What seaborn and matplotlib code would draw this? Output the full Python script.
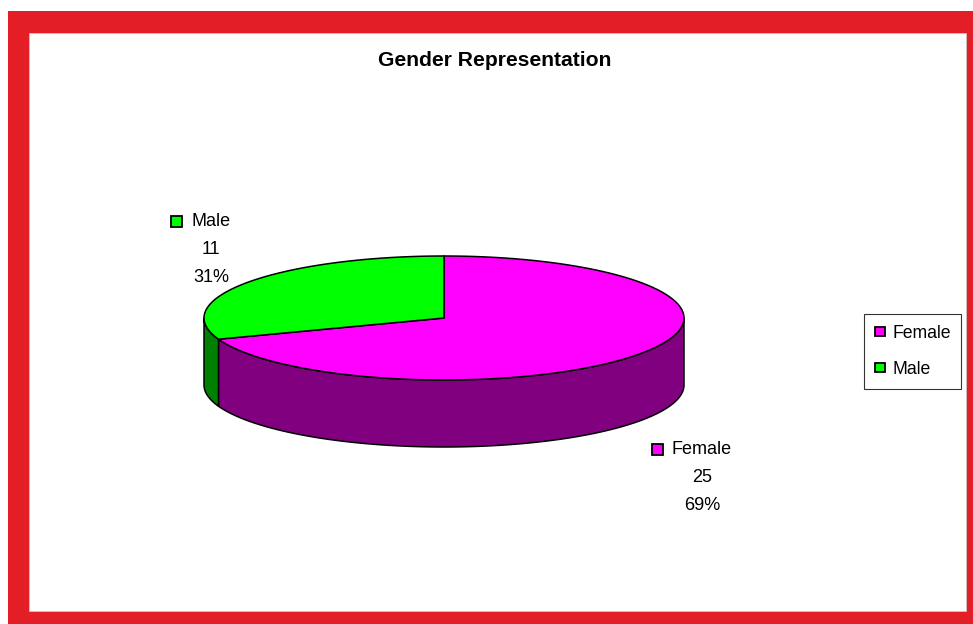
import numpy as np
import matplotlib
matplotlib.use("Agg")
import matplotlib.pyplot as plt
from matplotlib.patches import Polygon, Rectangle, Patch
import seaborn as sns

# data
labels = ["Female", "Male"]
counts = [25, 11]
top_colors = ["#FF00FF", "#00FF00"]
side_colors = ["#800080", "#008000"]
title = "Gender Representation"

sns.set_theme(style="white")
plt.rcParams["font.family"] = ["Liberation Sans", "DejaVu Sans"]

W, H = 973, 624
fig = plt.figure(figsize=(W / 100, H / 100), dpi=100)
ax = fig.add_axes([0, 0, 1, 1])
ax.set_xlim(0, W)
ax.set_ylim(H, 0)
ax.axis("off")

# red frame around the chart area
ax.add_patch(Rectangle((8, 11), W - 8, H - 11, facecolor="#E41E26", edgecolor="none"))
ax.add_patch(Rectangle((29, 33), 937, 578, facecolor="white", edgecolor="#c8c8c8", lw=0.6))

ax.text(495, 60, title, ha="center", va="center", fontsize=15.2, fontweight="bold", color="black")

# 3d pie geometry (pixels)
cx, cy, rx, ry, depth = 444, 318, 240, 62, 67
total = sum(counts)
cum = np.concatenate([[0], np.cumsum(counts)])
starts = 90 - cum[:-1] / total * 360
ends = 90 - cum[1:] / total * 360


def arc(a0, a1, dy=0, n=200):
    a = np.radians(np.linspace(a0, a1, n))
    return np.column_stack([cx + rx * np.cos(a), cy - ry * np.sin(a) + dy])


# side walls (only the front half is visible)
for s, e, col in zip(starts, ends, side_colors):
    for k in (0, -360, 360):
        lo, hi = max(e, -180 + k), min(s, 0 + k)
        if hi > lo:
            top = arc(lo, hi)
            bot = arc(hi, lo, depth)
            ax.add_patch(Polygon(np.vstack([top, bot]), closed=True, facecolor=col,
                                 edgecolor="black", lw=1.1, joinstyle="round"))

# top faces
for s, e, col in zip(starts, ends, top_colors):
    pts = np.vstack([[cx, cy], arc(s, e)])
    ax.add_patch(Polygon(pts, closed=True, facecolor=col, edgecolor="black",
                         lw=1.1, joinstyle="round"))

# data labels: name, value, percent
label_x = [702, 211]
label_y = [449, 221]
line_gap = 28
renderer = fig.canvas.get_renderer()
for name, c, col, x, y in zip(labels, counts, top_colors, label_x, label_y):
    t = ax.text(x, y, name, ha="center", va="center", fontsize=13, color="black")
    bb = t.get_window_extent(renderer)
    ax.add_patch(Rectangle((x - bb.width / 2 - 20, y - 5.5), 11, 11, facecolor=col,
                           edgecolor="black", lw=1.3))
    ax.text(x, y + line_gap, f"{c}", ha="center", va="center", fontsize=13, color="black")
    ax.text(x, y + 2 * line_gap, f"{round(100 * c / total)}%", ha="center", va="center",
            fontsize=13, color="black")

handles = [Patch(facecolor=col, edgecolor="black", lw=1.3) for col in top_colors]
leg = fig.legend(handles, labels, loc="upper left", bbox_to_anchor=(864 / W, 1 - 314 / H),
                 fontsize=12.7, labelcolor="black", frameon=True, fancybox=False,
                 borderpad=0.6, labelspacing=1.1, handlelength=0.6, handleheight=0.45,
                 handletextpad=0.4, borderaxespad=0)
leg.get_frame().set_edgecolor("black")
leg.get_frame().set_linewidth(0.8)

fig.savefig("out.png", dpi=100)
